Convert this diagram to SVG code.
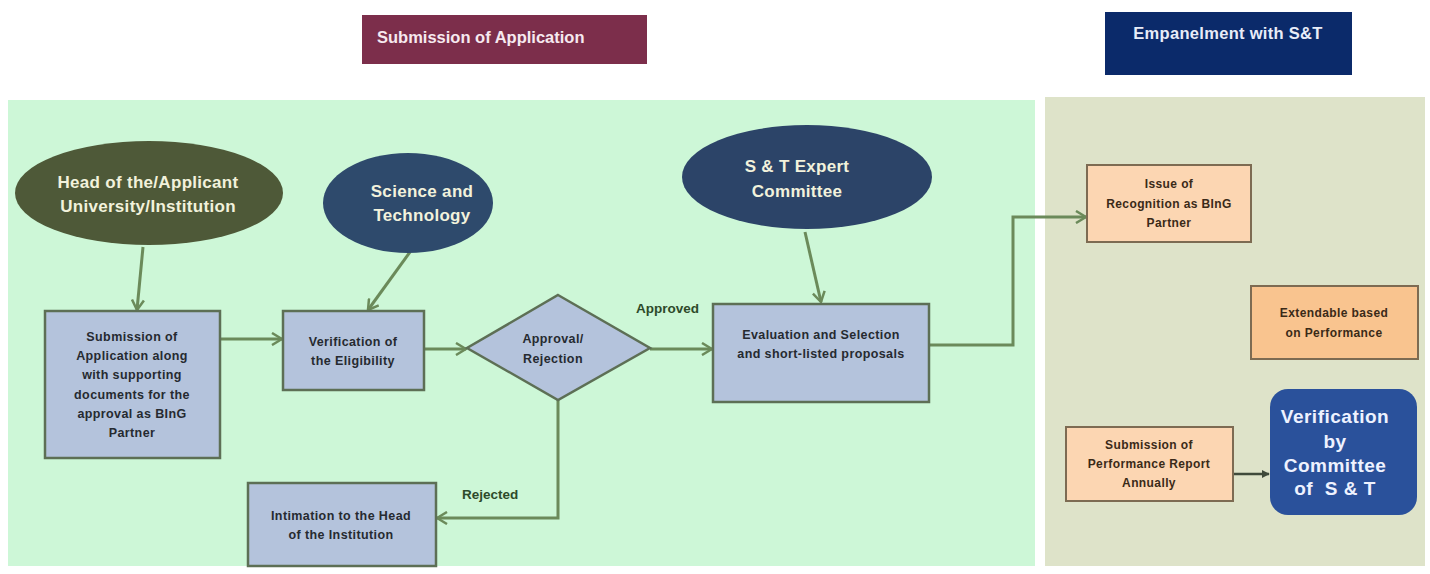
<svg xmlns="http://www.w3.org/2000/svg" width="1430" height="574" viewBox="0 0 1430 574">
<style>
.t{font-family:"Liberation Sans",Arial,sans-serif;font-weight:bold;text-anchor:middle}
.box{fill:#b4c3dc;stroke:#5d6f55;stroke-width:2.5}
.peach{fill:#fcd6b2;stroke:#7d6b52;stroke-width:2}
.bt{font-size:12.5px;letter-spacing:0.4px;fill:#262a30}
.pt{font-size:12px;letter-spacing:0.4px;fill:#3a2a18}
.et{font-size:17px;letter-spacing:0.3px;fill:#f2f2dc}
.vt{font-size:19px;letter-spacing:0.5px;fill:#eef2ff}
.lbl{font-size:13.5px;fill:#2d4a2a;text-anchor:start}
.con{fill:none;stroke:#6b8a5a;stroke-width:3}
</style>
<defs>
<marker id="ah" viewBox="0 0 12 14" refX="11" refY="7" markerWidth="12" markerHeight="14" markerUnits="userSpaceOnUse" orient="auto">
<path d="M1,1 L11,7 L1,13" fill="none" stroke="#6b8a5a" stroke-width="2.5"/>
</marker>
<marker id="ah2" viewBox="0 0 10 10" refX="9" refY="5" markerWidth="8" markerHeight="8" markerUnits="userSpaceOnUse" orient="auto">
<path d="M0,0 L10,5 L0,10 z" fill="#3f4a3a"/>
</marker>
</defs>
<rect width="1430" height="574" fill="#ffffff"/>
<rect x="8" y="100" width="1027" height="466" fill="#cdf7d7"/>
<rect x="1045" y="97" width="380" height="469" fill="#dee3c9"/>

<g id="title-submission">
<rect x="362" y="15" width="285" height="49" fill="#7c2e4b"/>
<text class="t" x="377" y="43" style="font-size:16.5px;fill:#f6e9ef;text-anchor:start">Submission of Application</text>
</g>
<g id="title-empanelment">
<rect x="1105" y="12" width="247" height="63" fill="#0b2a6a"/>
<text class="t" x="1228" y="39" style="font-size:16.5px;letter-spacing:0.3px;fill:#e8ecf8">Empanelment with S&amp;T</text>
</g>

<g id="connectors">
<line class="con" x1="143" y1="247" x2="137" y2="310" marker-end="url(#ah)"/>
<line class="con" x1="410" y1="252" x2="368" y2="310" marker-end="url(#ah)"/>
<line class="con" x1="220" y1="339" x2="282" y2="339" marker-end="url(#ah)"/>
<line class="con" x1="424" y1="349" x2="466" y2="349" marker-end="url(#ah)"/>
<line class="con" x1="650" y1="349" x2="712" y2="349" marker-end="url(#ah)"/>
<polyline class="con" points="558,400 558,518 437,518" marker-end="url(#ah)"/>
<line class="con" x1="805" y1="232" x2="821" y2="302" marker-end="url(#ah)"/>
<polyline class="con" points="929,345 1013,345 1013,217 1086,217" marker-end="url(#ah)"/>
<line x1="1233" y1="474" x2="1269" y2="474" stroke="#3f4a3a" stroke-width="2.5" marker-end="url(#ah2)"/>
<text class="t lbl" x="636" y="313">Approved</text>
<text class="t lbl" x="462" y="499">Rejected</text>
</g>

<g id="head-applicant">
<ellipse cx="149" cy="193" rx="134" ry="52" fill="#4e5938"/>
<text class="t et" x="148" y="188">Head of the/Applicant</text>
<text class="t et" x="148" y="212">University/Institution</text>
</g>
<g id="science-technology">
<ellipse cx="408" cy="203" rx="85" ry="50" fill="#2e4a6c"/>
<text class="t et" x="422" y="197">Science and</text>
<text class="t et" x="422" y="221">Technology</text>
</g>
<g id="expert-committee">
<ellipse cx="807" cy="177" rx="125" ry="52" fill="#2c4468"/>
<text class="t et" x="797" y="172">S &amp; T Expert</text>
<text class="t et" x="797" y="197">Committee</text>
</g>

<g id="submission">
<rect class="box" x="45" y="311" width="175" height="147"/>
<text class="t bt" x="132" y="341">Submission of</text>
<text class="t bt" x="132" y="360">Application along</text>
<text class="t bt" x="132" y="379">with supporting</text>
<text class="t bt" x="132" y="399">documents for the</text>
<text class="t bt" x="132" y="418">approval as BInG</text>
<text class="t bt" x="132" y="437">Partner</text>
</g>
<g id="verification">
<rect class="box" x="283" y="311" width="141" height="79"/>
<text class="t bt" x="353" y="346">Verification of</text>
<text class="t bt" x="353" y="365">the Eligibility</text>
</g>
<g id="decision">
<polygon class="box" points="558,295 650,348 558,400 467,348"/>
<text class="t bt" x="553" y="343">Approval/</text>
<text class="t bt" x="553" y="363">Rejection</text>
</g>
<g id="evaluation">
<rect class="box" x="713" y="304" width="216" height="98"/>
<text class="t bt" x="821" y="339">Evaluation and Selection</text>
<text class="t bt" x="821" y="358">and short-listed proposals</text>
</g>
<g id="intimation">
<rect class="box" x="248" y="483" width="188" height="83"/>
<text class="t bt" x="341" y="520">Intimation to the Head</text>
<text class="t bt" x="341" y="539">of the Institution</text>
</g>

<g id="issue-recognition">
<rect class="peach" x="1087" y="165" width="164" height="77"/>
<text class="t pt" x="1169" y="188">Issue of</text>
<text class="t pt" x="1169" y="208">Recognition as BInG</text>
<text class="t pt" x="1169" y="227">Partner</text>
</g>
<g id="extendable">
<rect x="1251" y="286" width="167" height="73" fill="#f9c48f" stroke="#7d6b52" stroke-width="2"/>
<text class="t pt" x="1334" y="317">Extendable based</text>
<text class="t pt" x="1334" y="337">on Performance</text>
</g>
<g id="performance-report">
<rect class="peach" x="1066" y="427" width="167" height="74"/>
<text class="t pt" x="1149" y="449">Submission of</text>
<text class="t pt" x="1149" y="468">Performance Report</text>
<text class="t pt" x="1149" y="487">Annually</text>
</g>
<g id="verification-committee">
<rect x="1270" y="389" width="147" height="126" rx="18" fill="#2a519b"/>
<text class="t vt" x="1335" y="423">Verification</text>
<text class="t vt" x="1335" y="448">by</text>
<text class="t vt" x="1335" y="472">Committee</text>
<text class="t vt" x="1335" y="495" xml:space="preserve">of  S &amp; T</text>
</g>
</svg>
